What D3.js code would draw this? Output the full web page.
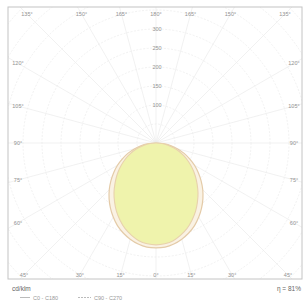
<!DOCTYPE html>
<html>
<head>
<meta charset="utf-8">
<script src="https://cdn.jsdelivr.net/npm/d3@7"></script>
<style>
  body { margin: 0; background: #fff; }
  text { font-family: "Liberation Sans", Arial, sans-serif; }
</style>
</head>
<body>
<div id="chart"></div>
<script>
// gamma angles (deg from nadir) and intensities in cd/klm
let angles = [0, 5, 10, 15, 20, 25, 30, 35, 40, 45, 50, 55, 60, 65, 70, 75, 80, 85, 90];
let c0c180 = [268, 266, 261, 251, 239, 224, 208, 190, 172, 153, 135, 117, 99, 82, 65, 48, 32, 16, 0];
let c90c270 = [276, 275, 270, 262, 252, 240, 225, 209, 192, 174, 155, 136, 117, 97, 78, 58, 39, 19, 0];
let ringValues = [50, 100, 150, 200, 250, 300, 350, 400, 450, 500, 550];
let ringLabels = [100, 150, 200, 250, 300];
let angleLabels = [0, 15, 30, 45, 60, 75, 90, 105, 120, 135, 150, 165, 180];

let width = 307;
let height = 300;
let frame = {x0: 8, y0: 7, x1: 302, y1: 279};
let cx = 156, cy = 143;

let r = d3.scaleLinear().domain([0, 300]).range([0, 114]);

let svg = d3.select("#chart")
    .append("svg")
    .attr("width", width)
    .attr("height", height);

svg.append("defs").append("clipPath")
    .attr("id", "clip")
    .append("rect")
    .attr("x", frame.x0).attr("y", frame.y0)
    .attr("width", frame.x1 - frame.x0)
    .attr("height", frame.y1 - frame.y0);

let plot = svg.append("g").attr("clip-path", "url(#clip)");
let g = plot.append("g").attr("transform", "translate(" + cx + "," + cy + ")");

// grid circles
g.selectAll(".ring")
    .data(ringValues)
    .enter().append("circle")
    .attr("r", d => r(d))
    .attr("fill", "none")
    .attr("stroke", "#ebebeb")
    .attr("stroke-width", 0.7)
    .attr("stroke-dasharray", "2,1.5");

// radial lines every 15 deg
let spokes = d3.range(0, 360, 15);
g.selectAll(".spoke")
    .data(spokes)
    .enter().append("line")
    .attr("x1", 0).attr("y1", 0)
    .attr("x2", d => Math.sin(d * Math.PI / 180) * 400)
    .attr("y2", d => Math.cos(d * Math.PI / 180) * 400)
    .attr("stroke", "#ebebeb")
    .attr("stroke-width", 0.7);

// curves, mirrored on both sides of nadir
function curvePoints(vals) {
    let pts = [];
    angles.forEach((a, i) => pts.push([a * Math.PI / 180, r(vals[i])]));
    for (let i = angles.length - 2; i > 0; i--) {
        pts.push([-angles[i] * Math.PI / 180, r(vals[i])]);
    }
    return pts;
}
// angle measured from the downward direction
let line = d3.lineRadial()
    .angle(d => Math.PI - d[0])
    .radius(d => d[1])
    .curve(d3.curveCatmullRomClosed);

g.append("path")
    .attr("d", line(curvePoints(c90c270)))
    .attr("fill", "#faf2e4")
    .attr("stroke", "#e4cba8")
    .attr("stroke-width", 1.2);

g.append("path")
    .attr("d", line(curvePoints(c0c180)))
    .attr("fill", "#eff3ac")
    .attr("stroke", "#e8d2ac")
    .attr("stroke-width", 1.1);

// radial value labels
g.selectAll(".rlab")
    .data(ringLabels)
    .enter().append("text")
    .attr("x", 1)
    .attr("y", d => -r(d))
    .attr("dy", "0.35em")
    .attr("text-anchor", "middle")
    .attr("font-size", 5.5)
    .attr("fill", "#929292")
    .text(d => d);

// frame
svg.append("rect")
    .attr("x", frame.x0).attr("y", frame.y0)
    .attr("width", frame.x1 - frame.x0)
    .attr("height", frame.y1 - frame.y0)
    .attr("fill", "none")
    .attr("stroke", "#c4c4c4")
    .attr("stroke-width", 1);

// angle labels on an inner rectangle
let inner = {x0: 18, y0: 14, x1: 294, y1: 275};
function edgePoint(deg, side) {
    let t = deg * Math.PI / 180;
    let dx = side * Math.sin(t), dy = Math.cos(t);
    let ks = [];
    if (dx > 1e-6) ks.push((inner.x1 - cx) / dx);
    if (dx < -1e-6) ks.push((inner.x0 - cx) / dx);
    if (dy > 1e-6) ks.push((inner.y1 - cy) / dy);
    if (dy < -1e-6) ks.push((inner.y0 - cy) / dy);
    let k = Math.min.apply(null, ks);
    return [cx + dx * k, cy + dy * k];
}
let labelData = [];
angleLabels.forEach(a => {
    labelData.push({a: a, p: edgePoint(a, -1)});
    if (a !== 0 && a !== 180) labelData.push({a: a, p: edgePoint(a, 1)});
});
svg.selectAll(".alab")
    .data(labelData)
    .enter().append("text")
    .attr("x", d => d.p[0])
    .attr("y", d => d.p[1])
    .attr("dy", "0.35em")
    .attr("text-anchor", "middle")
    .attr("font-size", 5.5)
    .attr("fill", "#929292")
    .text(d => d.a + "°");

// footer
svg.append("text")
    .attr("x", 12).attr("y", 291)
    .attr("font-size", 6.5)
    .attr("fill", "#666")
    .text("cd/klm");

svg.append("text")
    .attr("x", 301).attr("y", 291)
    .attr("text-anchor", "end")
    .attr("font-size", 6.5)
    .attr("fill", "#666")
    .text("η = 81%");

let legend = svg.append("g").attr("transform", "translate(0,300)");
legend.append("line")
    .attr("x1", 20).attr("x2", 30).attr("y1", -2.5).attr("y2", -2.5)
    .attr("stroke", "#aaa").attr("stroke-width", 0.8);
legend.append("text")
    .attr("x", 33).attr("y", 0)
    .attr("font-size", 5.5).attr("fill", "#999")
    .text("C0 - C180");
legend.append("line")
    .attr("x1", 78).attr("x2", 91).attr("y1", -2.5).attr("y2", -2.5)
    .attr("stroke", "#aaa").attr("stroke-width", 0.8)
    .attr("stroke-dasharray", "2,1");
legend.append("text")
    .attr("x", 94).attr("y", 0)
    .attr("font-size", 5.5).attr("fill", "#999")
    .text("C90 - C270");
</script>
</body>
</html>
